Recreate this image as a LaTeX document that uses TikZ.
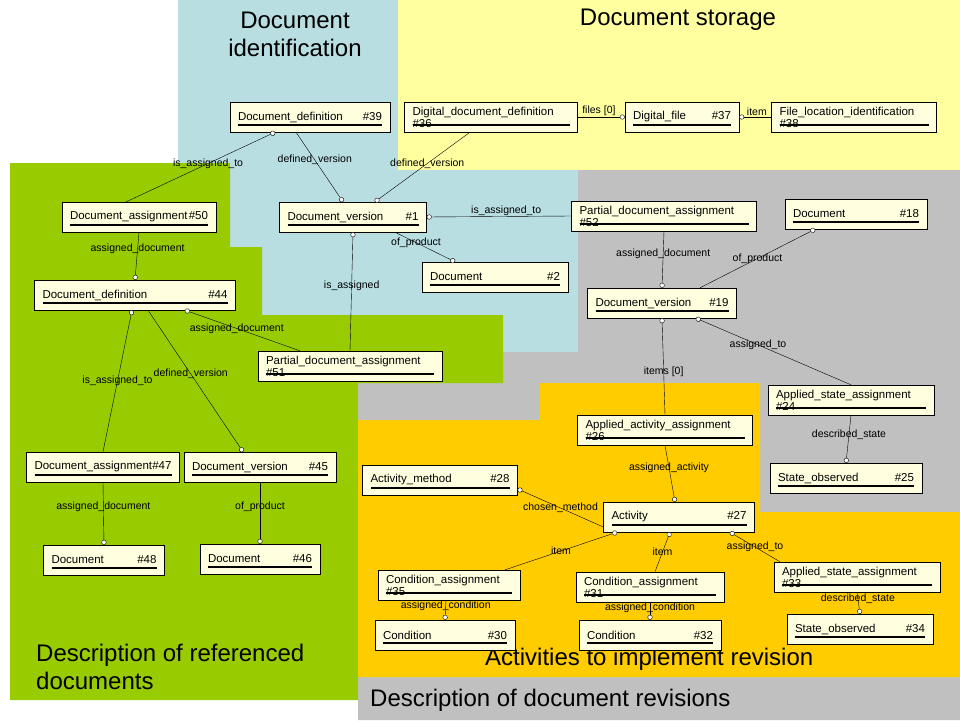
\documentclass[tikz,border=0pt]{standalone}
\usepackage{fontspec}
\setmainfont{Liberation Sans}
\usetikzlibrary{arrows.meta}
\definecolor{entfill}{RGB}{255,255,224}
\definecolor{bgblue}{RGB}{184,222,226}
\definecolor{bgyellow}{RGB}{255,255,160}
\definecolor{bggray}{RGB}{192,192,192}
\definecolor{bggreen}{RGB}{153,204,0}
\definecolor{bgorange}{RGB}{255,204,0}
\tikzset{
  entity/.style={draw, fill=entfill, minimum height=30pt, inner xsep=8pt, inner ysep=4pt, align=left,
    font=\fontsize{11.5}{12}\selectfont,
    path picture={
      \draw ([xshift=8pt,yshift=8pt]path picture bounding box.south west) -- ([xshift=-8pt,yshift=8pt]path picture bounding box.south east);
      \draw ([xshift=8pt,yshift=6.5pt]path picture bounding box.south west) -- ([xshift=-8pt,yshift=6.5pt]path picture bounding box.south east);
      \fill (path picture bounding box.south east) -- ++(-9pt,0) -- ++(9pt,9pt) -- cycle;}},
  rel/.style={-{Circle[open,length=5pt,fill=white]}},
  lbl/.style={font=\fontsize{10.5}{11}\selectfont, inner sep=1pt},
  title/.style={font=\fontsize{24}{28}\selectfont, align=left, inner sep=0pt}
}
\newcommand\ent[2]{#1\hfill#2}
\begin{document}
\begin{tikzpicture}[x=1pt,y=-1pt]
  \useasboundingbox (0,0) rectangle (960,720);
  \fill[white] (0,0) rectangle (960,720);
  % areas
  \fill[bgblue] (178,0) rectangle (578,352);
  \fill[bgyellow] (398,0) rectangle (960,170);
  \fill[bggray] (578,170) -- (960,170) -- (960,720) -- (358,720) -- (358,352) -- (578,352) -- cycle;
  \fill[bggreen] (10,163) -- (230,163) -- (230,247) -- (262,247) -- (262,315) -- (503,315) -- (503,383)
    -- (358,383) -- (358,700) -- (10,700) -- cycle;
  \fill[bgorange] (540,383) -- (760,383) -- (760,512) -- (960,512) -- (960,677) -- (358,677) -- (358,420) -- (540,420) -- cycle;
  % titles
  \node[title, align=center] (tid) at (295,34) {Document\\identification};
  \node[title] (tst) at (678,20) {Document storage};
  \node[title, anchor=west] (tref) at (36,667) {Description of referenced\\documents};
  \node[title, anchor=west] (tact) at (485,659) {Activities to implement revision};
  \node[title, anchor=west] (trev) at (370,700) {Description of document revisions};
  % entities
  \node[entity, text width=144pt] (n39) at (310,117) {\ent{Document\_definition}{\#39}};
  \node[entity, text width=157pt] (n36) at (491,117) {\ent{Digital\_document\_definition}{\#36}};
  \node[entity, text width=98pt] (n37) at (682,117) {\ent{Digital\_file}{\#37}};
  \node[entity, text width=149pt] (n38) at (854,117) {\ent{File\_location\_identification}{\#38}};
  \node[entity, text width=138pt] (n50) at (139,217) {\ent{Document\_assignment}{\#50}};
  \node[entity, text width=131pt] (n1) at (353,217) {\ent{Document\_version}{\#1}};
  \node[entity, text width=169pt] (n52) at (664,216) {\ent{Partial\_document\_assignment}{\#52}};
  \node[entity, text width=126pt] (n18) at (856,214) {\ent{Document}{\#18}};
  \node[entity, text width=130pt] (n2) at (495,277) {\ent{Document}{\#2}};
  \node[entity, text width=185pt] (n44) at (135,295) {\ent{Document\_definition}{\#44}};
  \node[entity, text width=133pt] (n19) at (662,303) {\ent{Document\_version}{\#19}};
  \node[entity, text width=168pt] (n51) at (350,366) {\ent{Partial\_document\_assignment}{\#51}};
  \node[entity, text width=150pt] (n24) at (851,400) {\ent{Applied\_state\_assignment}{\#24}};
  \node[entity, text width=159pt] (n26) at (665,430) {\ent{Applied\_activity\_assignment}{\#26}};
  \node[entity, text width=137pt] (n47) at (103,467) {\ent{Document\_assignment}{\#47}};
  \node[entity, text width=136pt] (n45) at (260,467) {\ent{Document\_version}{\#45}};
  \node[entity, text width=139pt] (n28) at (440,480) {\ent{Activity\_method}{\#28}};
  \node[entity, text width=136pt] (n25) at (846,478) {\ent{State\_observed}{\#25}};
  \node[entity, text width=135pt] (n27) at (679,517) {\ent{Activity}{\#27}};
  \node[entity, text width=105pt] (n48) at (104,560) {\ent{Document}{\#48}};
  \node[entity, text width=104pt] (n46) at (260,559) {\ent{Document}{\#46}};
  \node[entity, text width=126pt] (n35) at (449,585) {\ent{Condition\_assignment}{\#35}};
  \node[entity, text width=132pt] (n31) at (650,587) {\ent{Condition\_assignment}{\#31}};
  \node[entity, text width=150pt] (n33) at (857,577) {\ent{Applied\_state\_assignment}{\#33}};
  \node[entity, text width=124pt] (n30) at (445,635) {\ent{Condition}{\#30}};
  \node[entity, text width=126pt] (n32) at (650,635) {\ent{Condition}{\#32}};
  \node[entity, text width=130pt] (n34) at (860,629) {\ent{State\_observed}{\#34}};
  % relations
  \draw[rel] ([xshift=-90pt]n50.north east) -- node[lbl, pos=0.55] {is\_assigned\_to} ([xshift=-35pt]n39.south);
  \draw[rel] ([xshift=-14pt]n39.south) -- node[lbl, pos=0.4] {defined\_version} ([xshift=-10pt]n1.north);
  \draw[rel] ([xshift=-21pt]n36.south) -- node[lbl, pos=0.45] {defined\_version} ([xshift=22pt]n1.north);
  \draw[rel] (n36.east) -- node[lbl, above, pos=0.45] {files [0]} (n37.west);
  \draw[rel] (n38.west) -- node[lbl, above, pos=0.45] {item} (n37.east);
  \draw[rel] (n52.west) -- node[lbl, above, pos=0.45] {is\_assigned\_to} (n1.east);
  \draw[rel] ([xshift=42pt]n1.south) -- node[lbl, pos=0.35] {of\_product} ([xshift=-40pt]n2.north);
  \draw[rel] (n51.north) -- node[lbl, pos=0.55] {is\_assigned} (n1.south);
  \draw[rel] (n50.south) -- node[lbl, pos=0.35] {assigned\_document} (n44.north);
  \draw[rel] ([xshift=-50pt]n51.north) -- node[lbl, pos=0.55] {assigned\_document} ([xshift=50pt]n44.south);
  \draw[rel] (n47.north) -- node[lbl, pos=0.5] {is\_assigned\_to} ([xshift=-3pt]n44.south);
  \draw[rel] ([xshift=13pt]n44.south) -- node[lbl, pos=0.45] {defined\_version} ([xshift=-17pt]n45.north);
  \draw[rel] (n47.south) -- node[lbl, pos=0.4] {assigned\_document} (n48.north);
  \draw[rel] (n45.south) -- node[lbl, pos=0.4] {of\_product} (n46.north);
  \draw[rel] (n52.south) -- node[lbl, pos=0.4] {assigned\_document} (n19.north);
  \draw[rel] ([xshift=38pt]n19.north) -- node[lbl, pos=0.5] {of\_product} ([xshift=-41pt]n18.south);
  \draw[rel] (n26.north) -- node[lbl, pos=0.45] {items [0]} (n19.south);
  \draw[rel] (n24.north) -- node[lbl, pos=0.6] {assigned\_to} ([xshift=34pt]n19.south);
  \draw[rel] (n24.south) -- node[lbl, pos=0.4] {described\_state} (n25.north);
  \draw[rel] (n26.south) -- node[lbl, pos=0.4] {assigned\_activity} ([xshift=-4pt]n27.north);
  \draw[rel] ([yshift=-10pt]n27.west) -- node[lbl, pos=0.5] {chosen\_method} ([yshift=-9pt]n28.east);
  \draw[rel] ([xshift=56pt]n35.north) -- node[lbl, pos=0.5] {item} ([xshift=-62pt]n27.south);
  \draw[rel] ([xshift=5pt]n31.north) -- node[lbl, pos=0.5] {item} ([xshift=-9pt]n27.south);
  \draw[rel] ([xshift=-77pt]n33.north) -- node[lbl, pos=0.5] {assigned\_to} ([xshift=51pt]n27.south);
  \draw[rel] ([xshift=-3pt]n35.south) -- node[lbl, pos=0.3] {assigned\_condition} (n30.north);
  \draw[rel] (n31.south) -- node[lbl, pos=0.3] {assigned\_condition} (n32.north);
  \draw[rel] (n33.south) -- node[lbl, pos=0.3] {described\_state} (n34.north);
\end{tikzpicture}
\end{document}
